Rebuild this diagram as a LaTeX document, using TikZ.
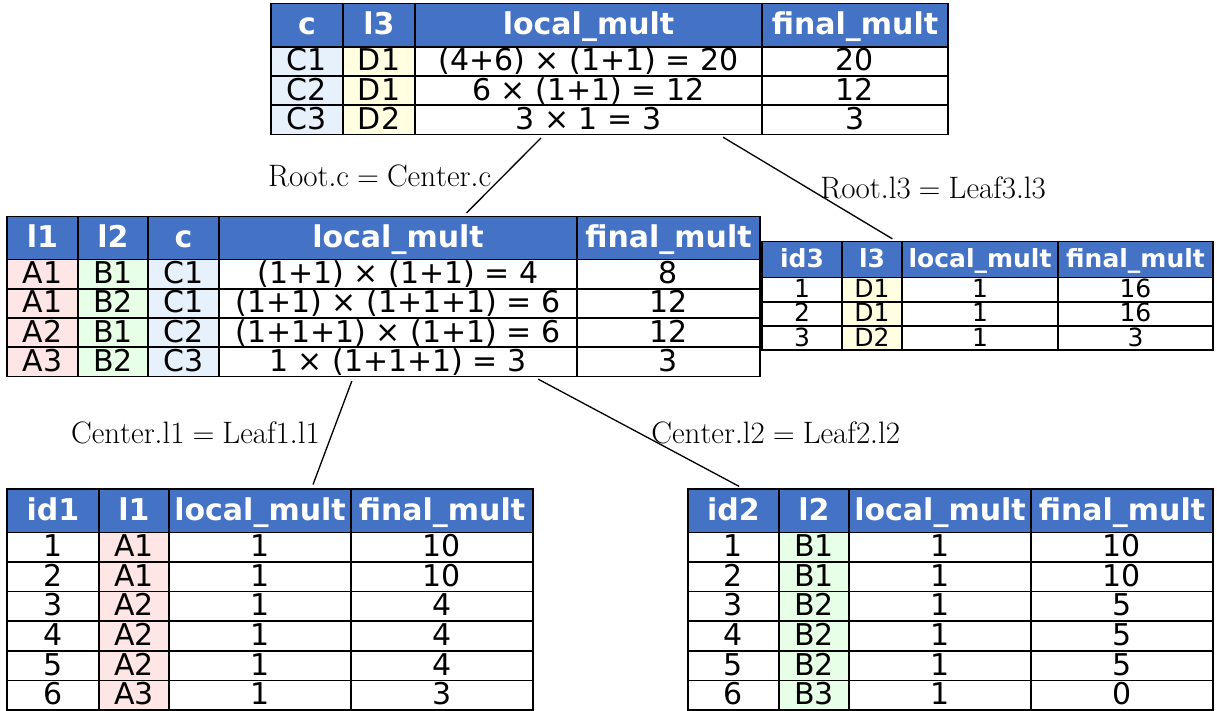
\documentclass[tikz,border=0pt]{standalone}
\usepackage{fontspec}
\setsansfont{DejaVu Sans}
\usetikzlibrary{matrix}

\definecolor{hdrblue}{HTML}{4472C4}
\definecolor{afill}{HTML}{FFE6E6}
\definecolor{bfill}{HTML}{E6FFE6}
\definecolor{cfill}{HTML}{E6F1FC}
\definecolor{dfill}{HTML}{FFFEE0}

\tikzset{
  tbl/.style={matrix of nodes, inner sep=0pt, outer sep=0pt,
    column sep=-0.8pt, row sep=-0.8pt,
    nodes={draw, line width=0.8pt, inner sep=0pt, outer sep=0pt, anchor=center,
      font=\sffamily\fontsize{15}{18}\selectfont, text height=11.5pt, text depth=2pt,
      minimum height=14.6pt},
    row 1/.style={nodes={fill=hdrblue, text=white, minimum height=21.6pt,
      font=\sffamily\bfseries\fontsize{15}{18}\selectfont}}},
  smalltbl/.style={tbl,
    nodes={font=\sffamily\fontsize{12.5}{14}\selectfont, text height=9.6pt, text depth=1.7pt,
      minimum height=12.1pt},
    row 1/.style={nodes={fill=hdrblue, text=white, minimum height=18pt,
      font=\sffamily\bfseries\fontsize{12.5}{15}\selectfont}}},
  joinlbl/.style={font=\fontsize{15.5}{18}\selectfont, inner sep=6pt},
  joinline/.style={line width=0.65pt, shorten <=2pt, shorten >=2pt}
}

\begin{document}
\begin{tikzpicture}[x=0.5pt, y=-0.5pt]
\useasboundingbox (0,0) rectangle (1217,711);

\matrix (root) [tbl,
  column 1/.style={nodes={minimum width=36pt, fill=cfill}},
  column 2/.style={nodes={minimum width=36pt, fill=dfill}},
  column 3/.style={nodes={minimum width=173.5pt}},
  column 4/.style={nodes={minimum width=93pt}}] at (609.5,69) {
c & l3 & local\_mult & final\_mult \\
C1 & D1 & (4+6) × (1+1) = 20 & 20 \\
C2 & D1 & 6 × (1+1) = 12 & 12 \\
C3 & D2 & 3 × 1 = 3 & 3 \\
};

\matrix (center) [tbl,
  column 1/.style={nodes={minimum width=35.5pt, fill=afill}},
  column 2/.style={nodes={minimum width=35pt, fill=bfill}},
  column 3/.style={nodes={minimum width=35.5pt, fill=cfill}},
  column 4/.style={nodes={minimum width=179pt}},
  column 5/.style={nodes={minimum width=91.5pt}}] at (383.5,296.5) {
l1 & l2 & c & local\_mult & final\_mult \\
A1 & B1 & C1 & (1+1) × (1+1) = 4 & 8 \\
A1 & B2 & C1 & (1+1) × (1+1+1) = 6 & 12 \\
A2 & B1 & C2 & (1+1+1) × (1+1) = 6 & 12 \\
A3 & B2 & C3 & 1 × (1+1+1) = 3 & 3 \\
};

\matrix (leaf3) [smalltbl,
  column 1/.style={nodes={minimum width=40pt}},
  column 2/.style={nodes={minimum width=30pt, fill=dfill}},
  column 3/.style={nodes={minimum width=78pt}},
  column 4/.style={nodes={minimum width=77.5pt}}] at (987.5,296) {
id3 & l3 & local\_mult & final\_mult \\
1 & D1 & 1 & 16 \\
2 & D1 & 1 & 16 \\
3 & D2 & 1 & 3 \\
};

\matrix (leaf1) [tbl, nodes={minimum height=14.8pt},
  column 1/.style={nodes={minimum width=46pt}},
  column 2/.style={nodes={minimum width=35pt, fill=afill}},
  column 3/.style={nodes={minimum width=91pt}},
  column 4/.style={nodes={minimum width=91pt}}] at (270,599.5) {
id1 & l1 & local\_mult & final\_mult \\
1 & A1 & 1 & 10 \\
2 & A1 & 1 & 10 \\
3 & A2 & 1 & 4 \\
4 & A2 & 1 & 4 \\
5 & A2 & 1 & 4 \\
6 & A3 & 1 & 3 \\
};

\matrix (leaf2) [tbl, nodes={minimum height=14.8pt},
  column 1/.style={nodes={minimum width=45.5pt}},
  column 2/.style={nodes={minimum width=35pt, fill=bfill}},
  column 3/.style={nodes={minimum width=91pt}},
  column 4/.style={nodes={minimum width=91pt}}] at (950.5,599.5) {
id2 & l2 & local\_mult & final\_mult \\
1 & B1 & 1 & 10 \\
2 & B1 & 1 & 10 \\
3 & B2 & 1 & 5 \\
4 & B2 & 1 & 5 \\
5 & B2 & 1 & 5 \\
6 & B3 & 1 & 0 \\
};

\draw[joinline] (root) -- (center) node[joinlbl, midway, left] {$\mathrm{Root.c} = \mathrm{Center.c}$};
\draw[joinline] (root) -- (leaf3) node[joinlbl, midway, right] {$\mathrm{Root.l3} = \mathrm{Leaf3.l3}$};
\draw[joinline] (center) -- (leaf1) node[joinlbl, midway, left] {$\mathrm{Center.l1} = \mathrm{Leaf1.l1}$};
\draw[joinline] (center) -- (leaf2) node[joinlbl, midway, right] {$\mathrm{Center.l2} = \mathrm{Leaf2.l2}$};
\end{tikzpicture}
\end{document}
